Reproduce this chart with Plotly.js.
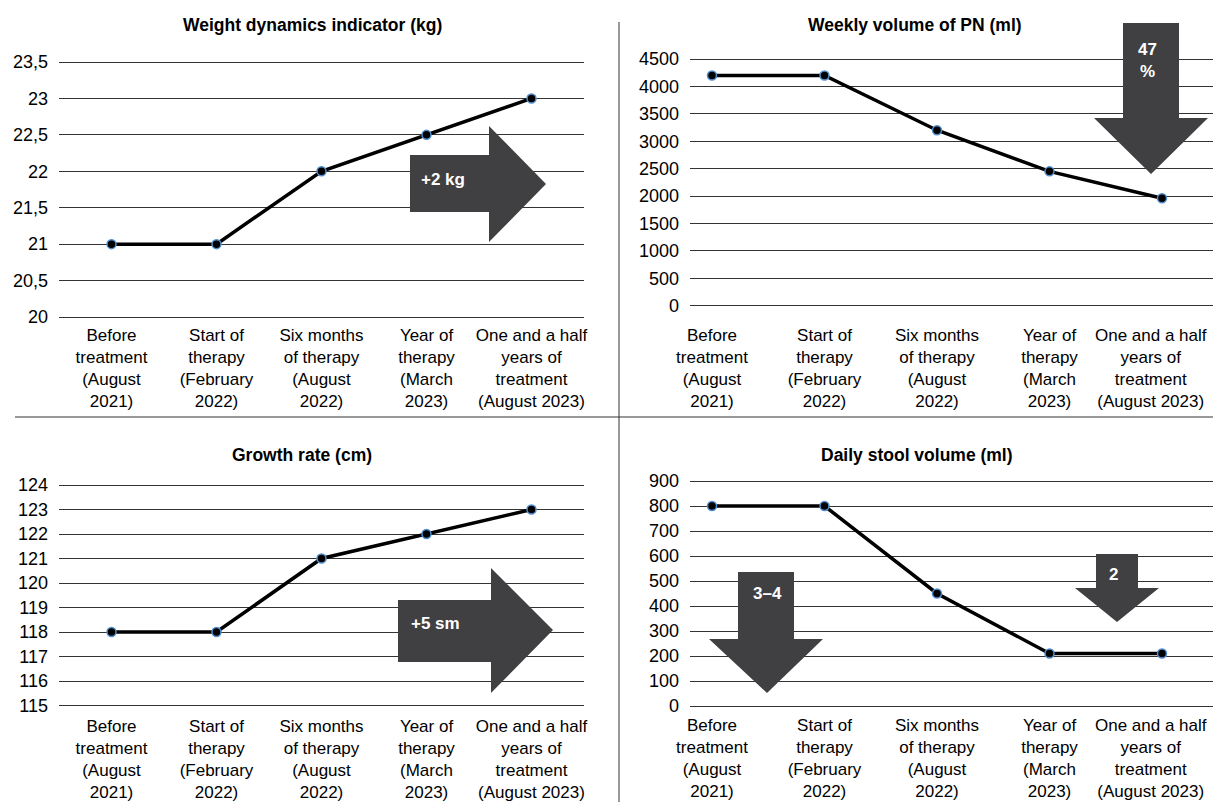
<!DOCTYPE html>
<html>
<head>
<meta charset="utf-8">
<script src="https://cdn.plot.ly/plotly-3.0.1.min.js"></script>
<style>html,body{margin:0;padding:0;background:#fff;}#chart{width:1213px;height:802px;}</style>
</head>
<body>
<div id="chart"></div>
<script>
const categories = [
  "Before<br>treatment<br>(August<br>2021)",
  "Start of<br>therapy<br>(February<br>2022)",
  "Six months<br>of therapy<br>(August<br>2022)",
  "Year of<br>therapy<br>(March<br>2023)",
  "One and a half<br>years of<br>treatment<br>(August 2023)"
];
const weightKg = [21, 21, 22, 22.5, 23];
const weeklyPN = [4200, 4200, 3200, 2450, 1960];
const growthCm = [118, 118, 121, 122, 123];
const stoolMl = [800, 800, 450, 210, 210];

const titles = ["Weight dynamics indicator (kg)", "Weekly volume of PN (ml)", "Growth rate (cm)", "Daily stool volume (ml)"];
const arrowLabels = ["+2 kg", "47<br>%", "+5 sm", "3–4", "2"];

const W = 1213, H = 802;
const fx = x => x / W;
const fy = y => 1 - y / H;
const path = pts => 'M' + pts.map(p => fx(p[0]).toFixed(5) + ',' + fy(p[1]).toFixed(5)).join(' L') + ' Z';
const idx = categories.map((c, i) => i);

const font = 'Liberation Sans, Arial, sans-serif';
const lineStyle = {color: '#000', width: 3.5};
const markerStyle = {size: 9, color: '#000', line: {color: '#4f8fd0', width: 1.5}};

function trace(y, n) {
  return {x: idx, y: y, type: 'scatter', mode: 'lines+markers',
    line: lineStyle, marker: markerStyle, xaxis: 'x' + (n === 1 ? '' : n), yaxis: 'y' + (n === 1 ? '' : n),
    hoverinfo: 'y', cliponaxis: false};
}

function xa(d, anchor, range, tickvals, standoff) {
  return {domain: d, anchor: anchor, type: 'linear', range: range, tickmode: 'array', tickvals: tickvals, ticktext: categories,
    showgrid: false, zeroline: false, showline: false, ticks: '',
    tickfont: {family: font, size: 17, color: '#000'}, ticklabelstandoff: standoff, fixedrange: true};
}
function ya(d, anchor, range, dtick) {
  return {domain: d, anchor: anchor, range: range, dtick: dtick, tick0: 0, showgrid: true, gridcolor: '#333', gridwidth: 1,
    zeroline: false, showline: false, ticks: '', tickfont: {family: font, size: 18, color: '#000'}, ticklabelstandoff: 10, fixedrange: true};
}

const L = [fx(59), fx(584)], R = [fx(690), 1];
const leftRange = [-0.5, 4.5], rightRange = [-0.1956, 4.4533];
const leftTicks = [0, 1, 2, 3, 4], rightTicks = [0, 1, 2, 3, 3.9];

const arrowShape = pts => ({type: 'path', xref: 'paper', yref: 'paper', layer: 'above', fillcolor: '#404042', line: {width: 0}, path: path(pts)});

const layout = {
  width: W, height: H, margin: {l: 0, r: 0, t: 0, b: 0}, paper_bgcolor: '#fff', plot_bgcolor: 'rgba(0,0,0,0)',
  showlegend: false, separators: ', ',
  xaxis: xa(L, 'y', leftRange, leftTicks, 3), yaxis: ya([fy(320), fy(59)], 'x', [19.9588, 23.5412], 0.5),
  xaxis2: xa(R, 'y2', rightRange, rightTicks, 14), yaxis2: ya([fy(308.6), fy(56)], 'x2', [-54.7, 4554.7], 500),
  xaxis3: xa(L, 'y3', leftRange, leftTicks, 5), yaxis3: ya([fy(708.5), fy(482)], 'x3', [114.8776, 124.1224], 1),
  xaxis4: xa(R, 'y4', rightRange, rightTicks, 4), yaxis4: ya([fy(709), fy(478)], 'x4', [-12, 912], 100),
  shapes: [
    {type: 'line', xref: 'paper', yref: 'paper', x0: fx(619), x1: fx(619), y0: fy(22), y1: 0, line: {color: '#333', width: 1}},
    {type: 'line', xref: 'paper', yref: 'paper', x0: fx(15), x1: 1, y0: fy(417), y1: fy(417), line: {color: '#333', width: 1}},
    arrowShape([[410,155],[489,155],[489,126],[546,184],[489,242],[489,212],[410,212]]),
    arrowShape([[1123,23],[1179,23],[1179,118],[1208,118],[1151,174],[1094,118],[1123,118]]),
    arrowShape([[398,600],[491,600],[491,568],[553,630],[491,693],[491,662],[398,662]]),
    arrowShape([[738,572],[794,572],[794,639],[823,639],[767,693],[709,639],[738,639]]),
    arrowShape([[1096,554],[1138,554],[1138,588],[1159,588],[1117,622],[1075,588],[1096,588]])
  ],
  annotations: [
    {text: titles[0], x: fx(312), y: fy(25)},
    {text: titles[1], x: fx(915), y: fy(25)},
    {text: titles[2], x: fx(302), y: fy(455)},
    {text: titles[3], x: fx(917), y: fy(455)}
  ].map(a => Object.assign(a, {xref: 'paper', yref: 'paper', showarrow: false, xanchor: 'center', yanchor: 'middle',
    font: {family: font, size: 17.5, color: '#000', weight: 'bold'}})).concat([
    {text: arrowLabels[0], x: fx(443), y: fy(179)},
    {text: arrowLabels[1], x: fx(1147), y: fy(61)},
    {text: arrowLabels[2], x: fx(435), y: fy(623)},
    {text: arrowLabels[3], x: fx(767), y: fy(593)},
    {text: arrowLabels[4], x: fx(1113), y: fy(574)}
  ].map(a => Object.assign(a, {xref: 'paper', yref: 'paper', showarrow: false, xanchor: 'center', yanchor: 'middle',
    font: {family: font, size: 17, color: '#fff', weight: 'bold'}})))
};

const data = [trace(weightKg, 1), trace(weeklyPN, 2), trace(growthCm, 3), trace(stoolMl, 4)];
Plotly.newPlot('chart', data, layout, {displayModeBar: false, staticPlot: true});
</script>
</body>
</html>
